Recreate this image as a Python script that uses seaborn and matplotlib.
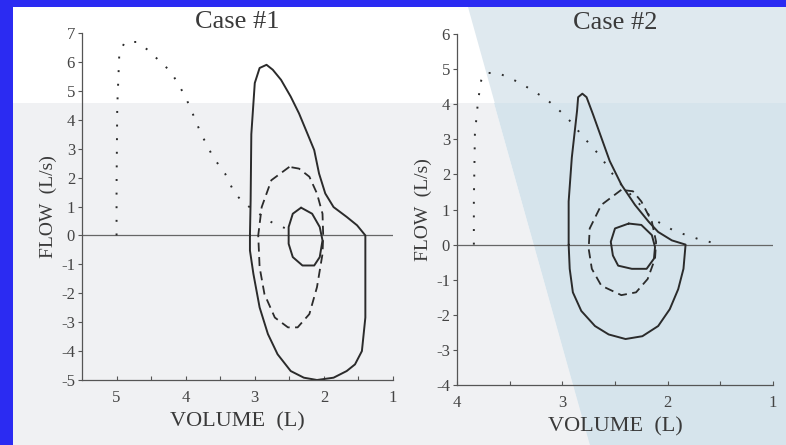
import numpy as np
import pandas as pd
import matplotlib
matplotlib.use("Agg")
import matplotlib.pyplot as plt
import seaborn as sns
from matplotlib.patches import Polygon

# ---------------- data ----------------
# Case 1
c1_pred_v = [5.0, 5.0, 4.99, 4.96, 4.88, 4.71, 4.55, 4.40, 4.29, 4.19, 4.10, 4.02, 3.95, 3.83, 3.77,
             3.69, 3.62, 3.52, 3.43, 3.29, 3.17, 3.05, 2.76, 2.60, 2.43]
c1_pred_f = [0.0, 1.7, 4.45, 6.3, 6.69, 6.69, 6.42, 6.08, 5.84, 5.56, 5.21, 4.86, 4.51, 3.82, 3.47,
             3.13, 2.78, 2.43, 2.14, 1.45, 1.16, 0.93, 0.46, 0.29, 0.12]
c1_max_v = [3.07, 3.06, 3.05, 3.0, 2.93, 2.83, 2.74, 2.62, 2.48, 2.36, 2.24, 2.14, 2.07, 1.98, 1.86, 1.67,
            1.52, 1.40, 1.40, 1.40, 1.45, 1.55, 1.67, 1.86, 2.10, 2.29, 2.48, 2.67, 2.81, 2.93, 3.02, 3.07, 3.07]
c1_max_f = [0.0, 1.2, 3.5, 5.27, 5.79, 5.9, 5.73, 5.38, 4.8, 4.22, 3.53, 2.95, 2.14, 1.45, 0.98, 0.64,
            0.35, 0.0, -1.1, -2.84, -4.0, -4.46, -4.69, -4.92, -5.0, -4.92, -4.69, -4.11, -3.41, -2.49, -1.33, -0.52, 0.0]
c1_ex_v = [2.50, 2.76, 2.90, 2.95, 2.93, 2.86, 2.71, 2.52, 2.38, 2.21, 2.10, 2.02, 2.01, 2.02, 2.10, 2.21, 2.36, 2.50]
c1_ex_f = [2.37, 1.91, 0.98, 0.0, -1.1, -2.03, -2.84, -3.18, -3.18, -2.72, -1.79, -0.64, 0.0, 0.75, 1.45, 2.03, 2.31, 2.37]
c1_rest_v = [2.33, 2.17, 2.06, 2.02, 2.06, 2.14, 2.31, 2.45, 2.51, 2.51, 2.45, 2.33]
c1_rest_f = [0.96, 0.75, 0.29, -0.17, -0.75, -1.04, -1.04, -0.75, -0.29, 0.29, 0.75, 0.96]

# Case 2
c2_pred_v = [3.84, 3.84, 3.83, 3.80, 3.77, 3.74, 3.61, 3.49, 3.39, 3.29, 3.18, 3.09, 3.01, 2.93, 2.79,
             2.71, 2.64, 2.52, 2.44, 2.26, 2.15, 2.04, 1.93, 1.82, 1.70, 1.58, 1.53]
c2_pred_f = [0.0, 1.23, 3.15, 4.1, 4.68, 4.89, 4.89, 4.73, 4.59, 4.40, 4.20, 3.99, 3.77, 3.53, 3.03,
             2.76, 2.52, 2.0, 1.71, 1.13, 0.75, 0.56, 0.38, 0.27, 0.15, 0.06, 0.0]
c2_max_v = [2.94, 2.94, 2.91, 2.86, 2.85, 2.81, 2.77, 2.71, 2.63, 2.55, 2.44, 2.31, 2.18, 2.09, 1.96, 1.83,
            1.85, 1.90, 1.98, 2.09, 2.24, 2.40, 2.56, 2.69, 2.82, 2.90, 2.93, 2.94]
c2_max_f = [0.0, 1.23, 2.48, 3.82, 4.2, 4.3, 4.2, 3.72, 3.05, 2.38, 1.71, 1.13, 0.65, 0.36, 0.12, 0.0,
            -0.69, -1.27, -1.84, -2.32, -2.61, -2.69, -2.56, -2.32, -1.89, -1.36, -0.69, 0.0]
c2_ex_v = [2.44, 2.63, 2.74, 2.75, 2.72, 2.63, 2.44, 2.30, 2.19, 2.12, 2.11, 2.15, 2.25, 2.33, 2.44]
c2_ex_f = [1.56, 1.13, 0.46, -0.12, -0.69, -1.17, -1.44, -1.36, -0.98, -0.4, 0.08, 0.65, 1.23, 1.52, 1.56]
c2_rest_v = [2.37, 2.50, 2.54, 2.52, 2.47, 2.34, 2.20, 2.13, 2.12, 2.15, 2.25, 2.37]
c2_rest_f = [0.6, 0.46, 0.08, -0.31, -0.6, -0.69, -0.69, -0.4, -0.07, 0.27, 0.56, 0.6]

titles = ["Case #1", "Case #2"]
x_label = "VOLUME  (L)"
y_label = "FLOW  (L/s)"
c1_xticks = [5, 4, 3, 2, 1]
c1_yticks = [-5, -4, -3, -2, -1, 0, 1, 2, 3, 4, 5, 6, 7]
c2_xticks = [4, 3, 2, 1]
c2_yticks = [-4, -3, -2, -1, 0, 1, 2, 3, 4, 5, 6]

# ---------------- figure ----------------
sns.set_theme(style="white")
plt.rcParams['font.family'] = ['Liberation Serif', 'DejaVu Serif']
plt.rcParams['axes.unicode_minus'] = False
W, H = 786, 445
fig = plt.figure(figsize=(W / 100, H / 100), dpi=100)
fig.patch.set_facecolor("#2b2bf2")

def fx(px):
    return px / W

def fy(py):
    return 1 - py / H

# background axes holding the light slide panel
bg = fig.add_axes([0, 0, 1, 1], zorder=-10)
bg.set_xlim(0, 1)
bg.set_ylim(0, 1)
bg.axis("off")
bg.add_patch(Polygon([(fx(13), 0), (fx(13), fy(7)), (1, fy(7)), (1, 0)], closed=True,
                     facecolor="#ffffff", edgecolor="none"))
bg.add_patch(Polygon([(fx(13), 0), (fx(13), fy(103)), (fx(494), fy(103)), (fx(590), 0)], closed=True,
                     facecolor="#f0f1f3", edgecolor="none"))
bg.add_patch(Polygon([(fx(468), fy(7)), (1, fy(7)), (1, 0), (fx(590), 0)], closed=True,
                     facecolor="#dfe9ef", edgecolor="none"))
bg.add_patch(Polygon([(fx(494), fy(103)), (1, fy(103)), (1, 0), (fx(590), 0)], closed=True,
                     facecolor="#d6e4ec", edgecolor="none"))

ink = "#2b2b2b"
grey = "#555555"
txt = "#3a3a3a"

def panel(rect, title, xlim, ylim, xticks, yticks, pred, maxl, ex, rest):
    ax = fig.add_axes(rect, zorder=1)
    ax.set_facecolor("none")
    ax.axhline(0, color="#666666", lw=0.9, zorder=1)
    for (v, f), ls, lw in [(pred, (0, (1, 6)), 1.4), (maxl, "-", 1.4), (ex, (0, (5, 3)), 1.3), (rest, "-", 1.4)]:
        df = pd.DataFrame({"v": v, "f": f})
        sns.lineplot(data=df, x="v", y="f", sort=False, estimator=None, ax=ax,
                     color=ink, lw=lw, linestyle=ls)
    ax.set_xlim(*xlim)
    ax.set_ylim(*ylim)
    ax.set_xticks(xticks)
    ax.set_xticks(np.arange(min(xticks) + 0.5, max(xticks), 1.0), minor=True)
    ax.set_yticks(yticks)
    ax.tick_params(axis="both", which="major", direction="out", length=3, width=0.8,
                   color=grey, labelcolor="#444444", labelsize=12, pad=2)
    ax.tick_params(axis="x", which="both", direction="in", length=3, width=0.8, color=grey)
    ax.tick_params(axis="x", which="major", pad=7)
    ax.xaxis.set_ticks_position("bottom")
    ax.yaxis.set_ticks_position("left")
    for s in ["top", "right"]:
        ax.spines[s].set_visible(False)
    for s in ["left", "bottom"]:
        ax.spines[s].set_color(grey)
        ax.spines[s].set_linewidth(0.9)
    ax.set_xlabel(x_label, fontsize=16, color=txt, labelpad=5)
    ax.set_ylabel(y_label, fontsize=14, color=txt, labelpad=3)
    ax.set_title(title, fontsize=19, color=txt, pad=2)
    return ax

panel([fx(82), fy(380), fx(393) - fx(82), fy(33) - fy(380)], titles[0], (5.5, 1.0), (-5, 7),
      c1_xticks, c1_yticks, (c1_pred_v, c1_pred_f), (c1_max_v, c1_max_f),
      (c1_ex_v, c1_ex_f), (c1_rest_v, c1_rest_f))
panel([fx(457), fy(385), fx(773) - fx(457), fy(34) - fy(385)], titles[1], (4.0, 1.0), (-4, 6),
      c2_xticks, c2_yticks, (c2_pred_v, c2_pred_f), (c2_max_v, c2_max_f),
      (c2_ex_v, c2_ex_f), (c2_rest_v, c2_rest_f))

fig.savefig("out.png", dpi=100, facecolor=fig.get_facecolor())
